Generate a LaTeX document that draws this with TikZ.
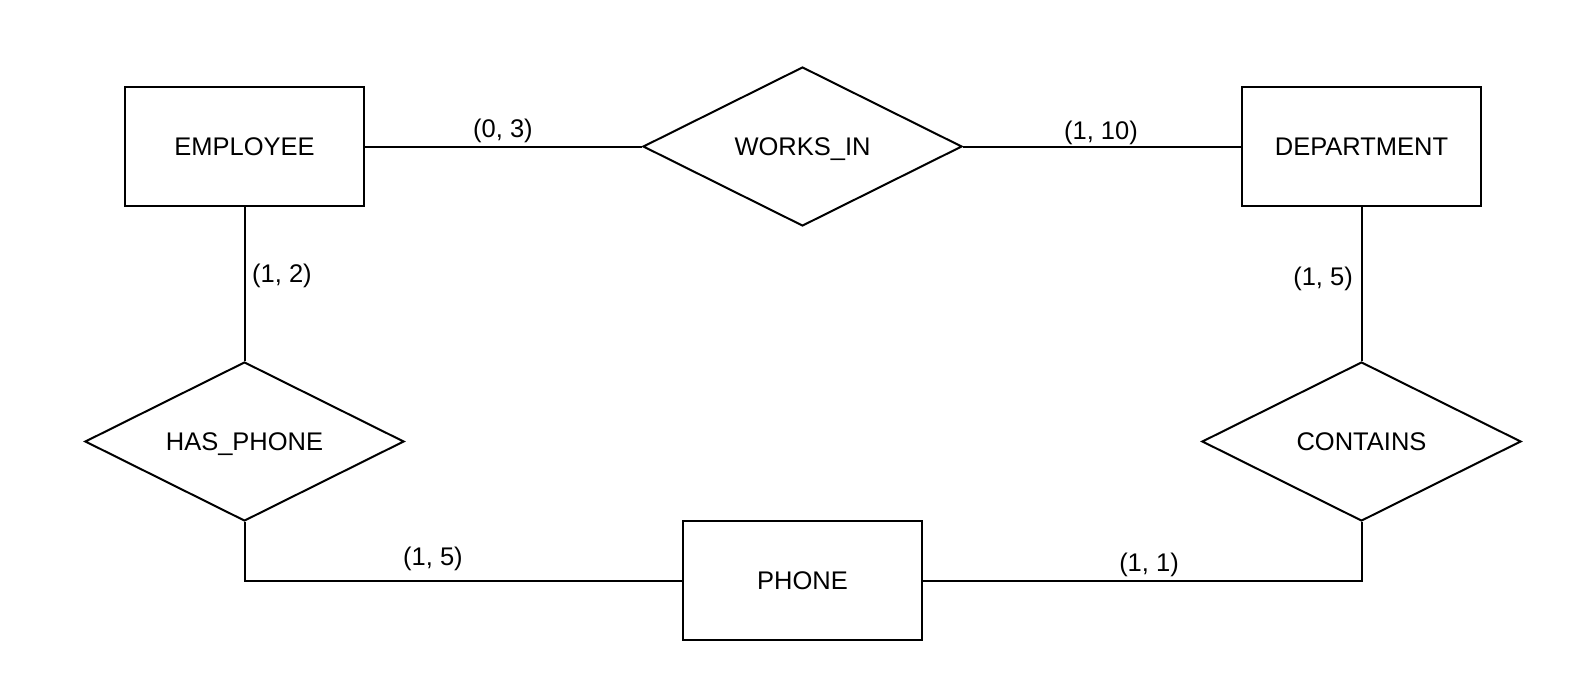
\documentclass[tikz,border=0pt]{standalone}
\usepackage{fontspec}
\setmainfont{Liberation Sans}
\usetikzlibrary{shapes.geometric}
\begin{document}
\begin{tikzpicture}[x=1bp,y=-1bp,line width=2bp,
  txt/.style={font=\fontsize{25.5bp}{30bp}\selectfont,text height=18.3bp,text depth=0pt},
  entity/.style={draw,rectangle,minimum width=239bp,minimum height=119bp,inner sep=0pt,txt},
  rel/.style={draw,diamond,minimum width=319bp,minimum height=159bp,inner sep=0pt,aspect=2,txt},
  card/.style={inner sep=0pt,txt}]
\useasboundingbox (0,0) rectangle (1572,674);
\node[entity] (emp) at (244.5,146.5) {EMPLOYEE};
\node[rel] (works) at (802.5,146.5) {WORKS\_IN};
\node[entity] (dept) at (1361.5,146.5) {DEPARTMENT};
\node[rel] (has) at (244.5,441.5) {HAS\_PHONE};
\node[rel] (cont) at (1361.5,441.5) {CONTAINS};
\node[entity] (phone) at (802.5,580.5) {PHONE};
\draw (emp.east) -- (works.west);
\draw (works.east) -- (dept.west);
\draw (emp.south) -- (has.north);
\draw (dept.south) -- (cont.north);
\draw (has.south) |- (phone.west);
\draw (cont.south) |- (phone.east);
\node[card] (c1) at (503,128) {(0, 3)};
\node[card] (c2) at (1101,130) {(1, 10)};
\node[card] (c3) at (282,273) {(1, 2)};
\node[card] (c4) at (1323,276) {(1, 5)};
\node[card] (c5) at (433,556) {(1, 5)};
\node[card] (c6) at (1149,562) {(1, 1)};
\end{tikzpicture}
\end{document}
